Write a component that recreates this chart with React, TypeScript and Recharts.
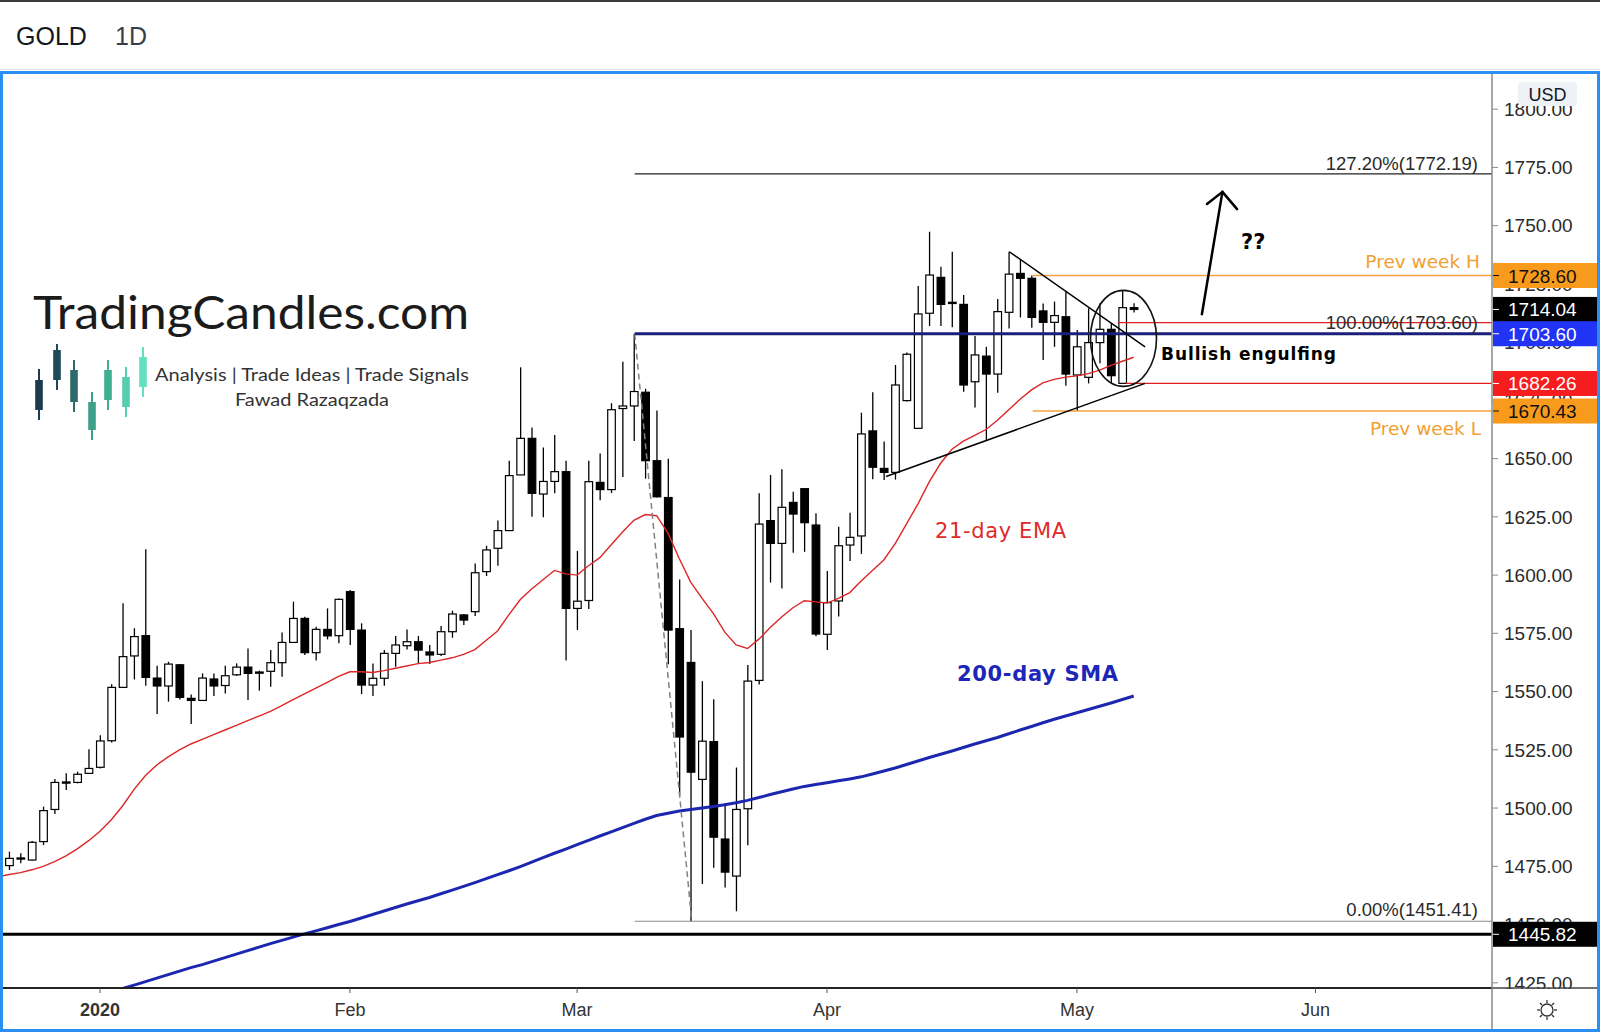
import React from 'react';
import { ComposedChart, Bar, Line, XAxis, YAxis, ReferenceLine, ReferenceDot } from 'recharts';

// bar index 0 = Jan 2 2020, bars are trading days
const FIRST_BAR = -9;
const SMA_FIRST_BAR = 1;

const dates = [
  'Dec 18', 'Dec 19', 'Dec 20', 'Dec 23', 'Dec 24', 'Dec 26', 'Dec 27', 'Dec 30', 'Dec 31',
  'Jan 2', 'Jan 3', 'Jan 6', 'Jan 7', 'Jan 8', 'Jan 9', 'Jan 10', 'Jan 13', 'Jan 14', 'Jan 15', 'Jan 16',
  'Jan 17', 'Jan 20', 'Jan 21', 'Jan 22', 'Jan 23', 'Jan 24', 'Jan 27', 'Jan 28', 'Jan 29', 'Jan 30', 'Jan 31',
  'Feb 3', 'Feb 4', 'Feb 5', 'Feb 6', 'Feb 7', 'Feb 10', 'Feb 11', 'Feb 12', 'Feb 13', 'Feb 14',
  'Feb 17', 'Feb 18', 'Feb 19', 'Feb 20', 'Feb 21', 'Feb 24', 'Feb 25', 'Feb 26', 'Feb 27', 'Feb 28',
  'Mar 2', 'Mar 3', 'Mar 4', 'Mar 5', 'Mar 6', 'Mar 9', 'Mar 10', 'Mar 11', 'Mar 12', 'Mar 13', 'Mar 16',
  'Mar 17', 'Mar 18', 'Mar 19', 'Mar 20', 'Mar 23', 'Mar 24', 'Mar 25', 'Mar 26', 'Mar 27', 'Mar 30', 'Mar 31',
  'Apr 1', 'Apr 2', 'Apr 3', 'Apr 6', 'Apr 7', 'Apr 8', 'Apr 9', 'Apr 10', 'Apr 13', 'Apr 14', 'Apr 15',
  'Apr 16', 'Apr 17', 'Apr 20', 'Apr 21', 'Apr 22', 'Apr 23', 'Apr 24', 'Apr 27', 'Apr 28', 'Apr 29', 'Apr 30',
  'May 1', 'May 4', 'May 5', 'May 6', 'May 7', 'May 8',
];

const opens = [
  1476.5, 1475.3, 1478.2, 1477.7, 1485.6, 1499.4, 1510.8, 1511.0, 1514.9,
  1517.5, 1528.9, 1551.8, 1565.3, 1574.0, 1555.8, 1552.4, 1561.5, 1547.1, 1546.2, 1555.4,
  1552.6, 1557.2, 1560.5, 1558.4, 1558.7, 1562.4, 1571.1, 1581.4, 1566.7, 1576.7, 1574.0,
  1592.9, 1576.4, 1552.8, 1555.7, 1566.4, 1569.7, 1571.4, 1567.0, 1566.0, 1575.7,
  1582.9, 1584.3, 1601.5, 1611.5, 1619.1, 1643.0, 1658.7, 1634.8, 1640.2, 1644.4,
  1585.7, 1589.1, 1639.8, 1636.7, 1671.5, 1672.6, 1678.5, 1649.1, 1633.3, 1577.0, 1562.5,
  1512.3, 1528.5, 1486.7, 1470.8, 1499.7, 1554.8, 1623.4, 1613.6, 1631.2, 1637.1, 1621.5,
  1574.6, 1588.9, 1612.9, 1616.8, 1661.9, 1645.8, 1644.1, 1674.9, 1663.0, 1712.4, 1727.8,
  1716.7, 1716.2, 1683.0, 1694.0, 1686.3, 1712.8, 1729.5, 1727.4, 1713.4, 1708.5, 1710.9,
  1685.9, 1684.9, 1699.8, 1705.5, 1682.3, 1714.8,
];

const highs = [
  1479.5, 1481.3, 1480.6, 1485.9, 1500.6, 1512.5, 1514.9, 1515.6, 1525.2,
  1531.3, 1553.1, 1587.9, 1577.2, 1611.1, 1561.1, 1562.8, 1561.8, 1548.7, 1557.8, 1557.8,
  1561.1, 1562.1, 1568.5, 1559.0, 1567.8, 1575.4, 1588.6, 1582.1, 1577.8, 1585.7, 1590.0,
  1593.6, 1579.3, 1562.1, 1567.8, 1573.9, 1576.7, 1573.9, 1570.0, 1578.1, 1584.7,
  1583.3, 1605.0, 1612.6, 1623.4, 1649.1, 1689.2, 1663.4, 1654.8, 1660.1, 1649.1,
  1610.4, 1649.1, 1652.2, 1673.8, 1691.6, 1703.6, 1680.0, 1670.7, 1649.9, 1598.1, 1576.4,
  1554.5, 1546.7, 1502.2, 1517.4, 1561.4, 1635.1, 1643.0, 1645.4, 1635.8, 1637.1, 1626.5,
  1601.8, 1620.8, 1626.8, 1669.7, 1678.5, 1657.3, 1690.2, 1695.5, 1724.1, 1747.4, 1732.4,
  1738.8, 1720.2, 1702.6, 1698.0, 1718.5, 1738.8, 1735.5, 1728.6, 1716.6, 1717.4, 1721.7,
  1705.2, 1714.5, 1716.7, 1708.1, 1722.4, 1716.7,
];

const lows = [
  1474.0, 1473.4, 1476.3, 1477.4, 1484.1, 1497.4, 1507.7, 1510.6, 1514.6,
  1517.0, 1528.1, 1551.8, 1555.2, 1552.5, 1540.4, 1545.7, 1546.6, 1536.1, 1546.0, 1548.1,
  1549.2, 1556.7, 1546.4, 1550.4, 1552.1, 1556.4, 1571.0, 1565.7, 1563.3, 1572.4, 1570.7,
  1570.0, 1548.9, 1548.1, 1552.5, 1560.7, 1568.1, 1562.1, 1561.8, 1565.3, 1573.1,
  1578.6, 1582.4, 1599.6, 1604.0, 1619.1, 1643.0, 1625.1, 1624.8, 1635.1, 1563.3,
  1576.4, 1585.4, 1632.1, 1635.2, 1642.1, 1657.6, 1641.4, 1633.3, 1561.7, 1505.3, 1451.41,
  1467.4, 1474.4, 1465.9, 1455.7, 1484.0, 1553.0, 1596.8, 1594.3, 1609.6, 1610.0, 1573.8,
  1567.8, 1582.2, 1606.0, 1609.1, 1641.1, 1640.8, 1641.0, 1674.5, 1663.0, 1706.9, 1706.9,
  1706.4, 1678.7, 1671.9, 1658.0, 1678.3, 1705.9, 1710.6, 1706.2, 1692.3, 1698.0, 1681.3,
  1670.43, 1682.3, 1690.9, 1682.3, 1682.26, 1712.7,
];

const closes = [
  1477.5, 1478.4, 1478.6, 1485.3, 1498.9, 1511.0, 1511.2, 1514.5, 1517.0,
  1528.8, 1551.8, 1565.0, 1573.6, 1556.1, 1552.4, 1561.8, 1547.5, 1546.2, 1555.8, 1552.4,
  1556.8, 1560.5, 1557.8, 1558.0, 1562.4, 1571.1, 1581.4, 1566.7, 1576.7, 1573.9, 1589.6,
  1576.7, 1552.8, 1555.7, 1566.4, 1570.0, 1571.4, 1567.8, 1565.7, 1575.7, 1583.3,
  1580.7, 1601.0, 1610.8, 1619.1, 1642.7, 1658.7, 1635.1, 1640.2, 1644.4, 1585.7,
  1588.8, 1640.1, 1636.7, 1671.0, 1672.6, 1678.8, 1649.1, 1633.6, 1576.4, 1530.5, 1515.4,
  1528.7, 1487.5, 1472.5, 1499.4, 1554.5, 1621.9, 1613.6, 1629.1, 1626.2, 1622.5, 1574.7,
  1588.2, 1612.6, 1616.2, 1660.6, 1646.3, 1644.1, 1681.6, 1694.8, 1712.1, 1728.8, 1716.2,
  1717.1, 1681.6, 1694.5, 1686.3, 1713.1, 1729.2, 1727.4, 1710.6, 1708.5, 1711.4, 1686.3,
  1698.0, 1699.8, 1705.5, 1685.6, 1714.8, 1714.04,
];

// 21-day EMA
const ema21 = [
  1470.5, 1471.5, 1472.3, 1473.5, 1475.0, 1477.0, 1479.5, 1482.5, 1486.0,
  1490.0, 1495.0, 1501.0, 1508.0, 1514.0, 1518.5, 1522.0, 1525.0, 1527.5, 1529.5, 1531.5,
  1533.5, 1535.5, 1537.5, 1539.5, 1541.5, 1544.0, 1546.5, 1549.0, 1551.5, 1554.0, 1556.5,
  1558.5, 1558.5, 1558.2, 1559.0, 1560.0, 1561.0, 1562.0, 1562.5, 1563.5, 1564.5,
  1566.0, 1568.0, 1572.0, 1576.0, 1583.0, 1589.5, 1594.0, 1598.0, 1602.0, 1600.5,
  1600.0, 1604.0, 1607.5, 1613.0, 1618.5, 1623.5, 1626.0, 1625.5, 1618.0, 1607.0, 1597.0,
  1590.0, 1583.5, 1575.5, 1570.0, 1568.5, 1572.5, 1577.5, 1582.0, 1586.0, 1589.0, 1588.5,
  1588.0, 1590.0, 1592.5, 1597.5, 1602.0, 1606.5, 1613.5, 1622.0, 1630.5, 1640.0, 1648.0,
  1654.0, 1657.5, 1660.0, 1662.5, 1666.5, 1671.0, 1675.5, 1679.5, 1682.5, 1684.0, 1685.0,
  1685.5, 1686.5, 1688.0, 1690.0, 1691.8, 1693.5,
];

// 200-day SMA, from Jan 3
const sma200 = [
  1421.0, 1422.6, 1424.0, 1425.5, 1427.0, 1428.5, 1430.0, 1431.5, 1432.8, 1434.3,
  1435.8, 1437.3, 1438.8, 1440.3, 1441.8, 1443.2, 1444.6, 1446.0, 1447.3, 1448.6, 1450.0,
  1451.3, 1452.8, 1454.3, 1455.8, 1457.3, 1458.8, 1460.2, 1461.6, 1463.2, 1464.8,
  1466.4, 1468.0, 1469.7, 1471.4, 1473.1, 1474.9, 1476.8, 1478.7, 1480.6, 1482.4,
  1484.3, 1486.1, 1488.0, 1489.8, 1491.6, 1493.4, 1495.2, 1496.8, 1497.8, 1498.7, 1499.4,
  1500.0, 1500.7, 1501.4, 1502.3, 1503.3, 1504.5, 1505.8, 1507.0, 1508.2, 1509.3, 1510.1,
  1510.9, 1511.7, 1512.5, 1513.4, 1514.6, 1515.9, 1517.2, 1518.7, 1520.2, 1521.7, 1523.1,
  1524.5, 1526.0, 1527.5, 1528.9, 1530.3, 1531.9, 1533.5, 1535.0, 1536.6, 1538.1, 1539.5,
  1540.9, 1542.3, 1543.7, 1545.1, 1546.6, 1548.1,
];

const monthTicks = [0, 22, 42, 64, 86, 107];
const monthLabels = ['2020', 'Feb', 'Mar', 'Apr', 'May', 'Jun'];
const priceTicks = [1425, 1450, 1475, 1500, 1525, 1550, 1575, 1600, 1625, 1650, 1675, 1700, 1725, 1750, 1775, 1800];

// drawn levels
const fibStartBar = 47.07;
const fibLowBar = 52.1;
const fib1272 = 1772.19;
const fib100 = 1703.6;
const fib0 = 1451.41;
const supportLine = 1445.82;
const prevWeekHigh = 1728.6;
const prevWeekLow = 1670.43;
const engulfLow = 1682.26;
const engulfTop = 1708.4;
const lastPrice = 1714.04;

const W = 1600;
const H = 1032;
const PLOT = { left: 3, top: 74, right: 1492, bottom: 988 };
const X_DOMAIN: [number, number] = [-8.54, 122.54];
const Y_DOMAIN: [number, number] = [1422.76, 1815.1];

const bars = dates.map((date, k) => {
  const i = FIRST_BAR + k;
  return {
    i,
    date,
    o: opens[k],
    h: highs[k],
    l: lows[k],
    c: closes[k],
    ema: ema21[k],
    sma: i >= SMA_FIRST_BAR ? sma200[i - SMA_FIRST_BAR] : null,
  };
});

const py = (p: number) =>
  PLOT.top + ((Y_DOMAIN[1] - p) / (Y_DOMAIN[1] - Y_DOMAIN[0])) * (PLOT.bottom - PLOT.top);

const AXIS_FONT = '"Liberation Sans", Arial, sans-serif';
const NOTE_FONT = '"DejaVu Sans", Verdana, sans-serif';
const LOGO_FONT = 'Lato, "Open Sans", sans-serif';

const Candle = (props: any) => {
  const { x, y, width, height, payload } = props;
  if (!payload || y == null || height == null) return null;
  const { o, h, l, c } = payload;
  const top = Math.min(y, y + height);
  const span = Math.abs(height);
  const at = (v: number) => top + ((h - v) / (h - l || 1)) * span;
  const cx = x + width / 2;
  const bTop = at(Math.max(o, c));
  const bBot = at(Math.min(o, c));
  const up = c >= o;
  const bw = 7.6;
  return (
    <g>
      <line x1={cx} x2={cx} y1={top} y2={top + span} stroke="#000" strokeWidth={1.3} />
      <rect
        x={cx - bw / 2}
        y={bTop}
        width={bw}
        height={Math.max(bBot - bTop, 1.2)}
        fill={up ? '#fff' : '#000'}
        stroke="#000"
        strokeWidth={1.2}
      />
    </g>
  );
};

const TimeTick = (props: any) => {
  const { x, y, payload } = props;
  const k = monthTicks.indexOf(payload.value);
  return (
    <text
      x={x}
      y={y + 21}
      textAnchor="middle"
      fontSize={18}
      fontFamily={AXIS_FONT}
      fontWeight={k === 0 ? 700 : 400}
      fill="#333"
    >
      {monthLabels[k] ?? ''}
    </text>
  );
};

const tagLevels = [prevWeekHigh, lastPrice, fib100, engulfLow, prevWeekLow, supportLine];
const tagColors = [
  { bg: '#f89a1c', fg: '#111' },
  { bg: '#000', fg: '#fff' },
  { bg: '#2133f5', fg: '#fff' },
  { bg: '#f51d1d', fg: '#fff' },
  { bg: '#f89a1c', fg: '#111' },
  { bg: '#000', fg: '#fff' },
];

const logoCandles = [
  { x: 39, top: 369, bodyTop: 380, bodyBot: 410, bottom: 420, color: '#1d3b4f' },
  { x: 57, top: 344, bodyTop: 350, bodyBot: 380, bottom: 390, color: '#1f4a5a' },
  { x: 74, top: 360, bodyTop: 370, bodyBot: 402, bottom: 412, color: '#2d6a6b' },
  { x: 92, top: 392, bodyTop: 402, bodyBot: 430, bottom: 440, color: '#3e9f8b' },
  { x: 108, top: 360, bodyTop: 370, bodyBot: 400, bottom: 410, color: '#3fae92' },
  { x: 126, top: 367, bodyTop: 377, bodyBot: 407, bottom: 417, color: '#55cdb0' },
  { x: 143, top: 347, bodyTop: 357, bodyBot: 387, bottom: 397, color: '#64dfbf' },
];

export default function App() {
  return (
    <div style={{ position: 'relative', width: W, height: H, background: '#fff', overflow: 'hidden' }}>
      <style>{'body{margin:0;}'}</style>
      <div style={{ position: 'absolute', left: 0, top: 0 }}>
        <ComposedChart
          width={W}
          height={H}
          data={bars}
          margin={{ top: PLOT.top, right: 3, bottom: 4, left: PLOT.left }}
        >
          <XAxis
            dataKey="i"
            type="number"
            domain={X_DOMAIN}
            allowDataOverflow
            ticks={monthTicks}
            interval={0}
            tick={(p: any) => <TimeTick {...p} />}
            tickSize={5}
            tickMargin={2}
            height={40}
            axisLine={{ stroke: '#222', strokeWidth: 2 }}
            tickLine={{ stroke: '#555' }}
          />
          <YAxis
            orientation="right"
            type="number"
            width={105}
            domain={Y_DOMAIN}
            allowDataOverflow
            ticks={priceTicks}
            interval={0}
            tickFormatter={(v: number) => v.toFixed(2)}
            tick={{ fontSize: 19, fill: '#2a2a2a', fontFamily: AXIS_FONT }}
            tickSize={6}
            tickMargin={6}
            axisLine={{ stroke: '#8a8a8a', strokeWidth: 1.5 }}
            tickLine={{ stroke: '#8a8a8a' }}
          />
          <Bar
            dataKey={(d: any) => [d.l, d.h]}
            barSize={8}
            shape={(p: any) => <Candle {...p} />}
            isAnimationActive={false}
          />
          <Line
            type="linear"
            dataKey="ema"
            stroke="#dd2626"
            strokeWidth={1.4}
            dot={false}
            activeDot={false}
            isAnimationActive={false}
          />
          <Line
            type="linear"
            dataKey="sma"
            stroke="#1c27b0"
            strokeWidth={3}
            dot={false}
            activeDot={false}
            isAnimationActive={false}
          />

          <ReferenceLine y={supportLine} stroke="#000" strokeWidth={3} />
          <ReferenceLine
            segment={[{ x: fibStartBar, y: fib1272 }, { x: X_DOMAIN[1], y: fib1272 }]}
            stroke="#222"
            strokeWidth={1.2}
          />
          <ReferenceLine
            segment={[{ x: fibStartBar, y: fib0 }, { x: X_DOMAIN[1], y: fib0 }]}
            stroke="#8c8c8c"
            strokeWidth={1.2}
          />
          <ReferenceLine
            segment={[{ x: fibStartBar, y: fib100 }, { x: fibLowBar, y: fib0 }]}
            stroke="#808080"
            strokeWidth={1.5}
            strokeDasharray="6 4"
          />
          <ReferenceLine
            segment={[{ x: 82.1, y: prevWeekHigh }, { x: X_DOMAIN[1], y: prevWeekHigh }]}
            stroke="#f2a33c"
            strokeWidth={1.5}
          />
          <ReferenceLine
            segment={[{ x: 82.1, y: prevWeekLow }, { x: X_DOMAIN[1], y: prevWeekLow }]}
            stroke="#f2a33c"
            strokeWidth={1.5}
          />
          <ReferenceLine
            segment={[{ x: 89.6, y: engulfTop }, { x: X_DOMAIN[1], y: engulfTop }]}
            stroke="#e02020"
            strokeWidth={1.2}
          />
          <ReferenceLine
            segment={[{ x: 90.3, y: engulfLow }, { x: X_DOMAIN[1], y: engulfLow }]}
            stroke="#e02020"
            strokeWidth={1.2}
          />
          <ReferenceLine
            segment={[{ x: fibStartBar, y: fib100 }, { x: X_DOMAIN[1], y: fib100 }]}
            stroke="#1b1f7a"
            strokeWidth={3}
          />
          {/* triangle */}
          <ReferenceLine
            segment={[{ x: 80.05, y: 1738.8 }, { x: 92.0, y: 1698.0 }]}
            stroke="#000"
            strokeWidth={1.5}
          />
          <ReferenceLine
            segment={[{ x: 69.2, y: 1642.3 }, { x: 92.0, y: 1682.3 }]}
            stroke="#000"
            strokeWidth={1.5}
          />
          {/* breakout arrow */}
          <ReferenceLine
            segment={[{ x: 97.0, y: 1712.0 }, { x: 98.81, y: 1764.5 }]}
            stroke="#000"
            strokeWidth={2.5}
            strokeLinecap="round"
          />
          <ReferenceLine
            segment={[{ x: 97.45, y: 1759.3 }, { x: 98.81, y: 1764.5 }]}
            stroke="#000"
            strokeWidth={2.5}
            strokeLinecap="round"
          />
          <ReferenceLine
            segment={[{ x: 98.81, y: 1764.5 }, { x: 100.1, y: 1757.1 }]}
            stroke="#000"
            strokeWidth={2.5}
            strokeLinecap="round"
          />
          <ReferenceDot
            x={90.1}
            y={1701.6}
            r={1}
            shape={(p: any) => (
              <ellipse cx={p.cx} cy={p.cy} rx={33} ry={48} fill="none" stroke="#111" strokeWidth={1.6} />
            )}
          />
        </ComposedChart>
      </div>

      <svg
        width={W}
        height={H}
        style={{ position: 'absolute', left: 0, top: 0, pointerEvents: 'none' }}
      >
        {/* header */}
        <rect x={0} y={0} width={W} height={2} fill="#3c3c3c" />
        <line x1={0} x2={W} y1={69.5} y2={69.5} stroke="#dcdfe6" />
        <text x={16} y={45} fontSize={25} fontFamily={AXIS_FONT} fill="#131722">GOLD</text>
        <text x={115} y={45} fontSize={25} fontFamily={AXIS_FONT} fill="#3a3e4a">1D</text>

        {/* bottom of price scale */}
        <rect x={1493} y={989} width={104} height={39} fill="#fff" />
        <line x1={1492} x2={1597} y1={988} y2={988} stroke="#444" strokeWidth={1.5} />
        <line x1={1492} x2={1492} y1={988} y2={1029} stroke="#8a8a8a" strokeWidth={1.5} />
        <g transform="translate(1547 1010)" stroke="#333" strokeWidth={1.3} fill="none">
          <circle r={6} />
          {[0, 45, 90, 135, 180, 225, 270, 315].map((a) => (
            <line
              key={a}
              x1={7 * Math.cos((a * Math.PI) / 180)}
              y1={7 * Math.sin((a * Math.PI) / 180)}
              x2={10 * Math.cos((a * Math.PI) / 180)}
              y2={10 * Math.sin((a * Math.PI) / 180)}
            />
          ))}
        </g>

        {/* price tags */}
        {tagLevels.map((v, k) => {
          const cy = py(v);
          return (
            <g key={v}>
              <rect x={1493} y={cy - 12.5} width={104} height={25} fill={tagColors[k].bg} />
              <line x1={1493} x2={1499} y1={cy} y2={cy} stroke={tagColors[k].fg} strokeWidth={1} />
              <text x={1508} y={cy + 7} fontSize={19} fontFamily={AXIS_FONT} fill={tagColors[k].fg}>
                {v.toFixed(2)}
              </text>
            </g>
          );
        })}
        <rect x={1518} y={82} width={59} height={24} rx={4} fill="#eef1f6" />
        <text x={1547.5} y={100.5} textAnchor="middle" fontSize={18} fontFamily={AXIS_FONT} fill="#131722">
          USD
        </text>

        {/* fib and level labels */}
        <text x={1478} y={170} textAnchor="end" fontSize={18.5} fontFamily={AXIS_FONT} fill="#2a2a2a">
          127.20%(1772.19)
        </text>
        <text x={1478} y={329} textAnchor="end" fontSize={18.5} fontFamily={AXIS_FONT} fill="#2a2a2a">
          100.00%(1703.60)
        </text>
        <text x={1478} y={915.5} textAnchor="end" fontSize={18.5} fontFamily={AXIS_FONT} fill="#2a2a2a">
          0.00%(1451.41)
        </text>
        <text x={1480} y={267.5} textAnchor="end" fontSize={18.5} fontFamily={NOTE_FONT} fill="#f0a030">
          Prev week H
        </text>
        <text x={1481} y={435} textAnchor="end" fontSize={18.5} fontFamily={NOTE_FONT} fill="#f0a030">
          Prev week L
        </text>

        {/* notes */}
        <text x={935} y={537.5} fontSize={21} textLength={131} fontFamily={NOTE_FONT} fill="#e02a2a">
          21-day EMA
        </text>
        <text x={957} y={681} fontSize={21} fontWeight={700} textLength={161} fontFamily={NOTE_FONT} fill="#1c27b8">
          200-day SMA
        </text>
        <text x={1161} y={360} fontSize={17} fontWeight={700} textLength={175} fontFamily={NOTE_FONT} fill="#000">
          Bullish engulfing
        </text>
        <text x={1241} y={248.5} fontSize={21} fontWeight={700} fontFamily={NOTE_FONT} fill="#000">
          ??
        </text>

        {/* watermark logo */}
        <text
          x={33}
          y={329}
          fontSize={46}
          fontWeight={400}
          textLength={436}
          lengthAdjust="spacingAndGlyphs"
          fontFamily={LOGO_FONT}
          fill="#1b1b1b"
        >
          TradingCandles.com
        </text>
        {logoCandles.map((c) => (
          <g key={c.x}>
            <line x1={c.x} x2={c.x} y1={c.top} y2={c.bottom} stroke={c.color} strokeWidth={2} />
            <rect x={c.x - 3.8} y={c.bodyTop} width={7.6} height={c.bodyBot - c.bodyTop} fill={c.color} />
          </g>
        ))}
        <text
          x={155}
          y={381}
          fontSize={17}
          textLength={314}
          lengthAdjust="spacingAndGlyphs"
          fontFamily={LOGO_FONT}
          fill="#333"
        >
          Analysis | Trade Ideas | Trade Signals
        </text>
        <text
          x={235}
          y={406}
          fontSize={17}
          textLength={154}
          lengthAdjust="spacingAndGlyphs"
          fontFamily={LOGO_FONT}
          fill="#333"
        >
          Fawad Razaqzada
        </text>

        {/* chart frame */}
        <rect x={1.5} y={72.5} width={1597} height={958} fill="none" stroke="#2a8ff0" strokeWidth={3} />
      </svg>
    </div>
  );
}
